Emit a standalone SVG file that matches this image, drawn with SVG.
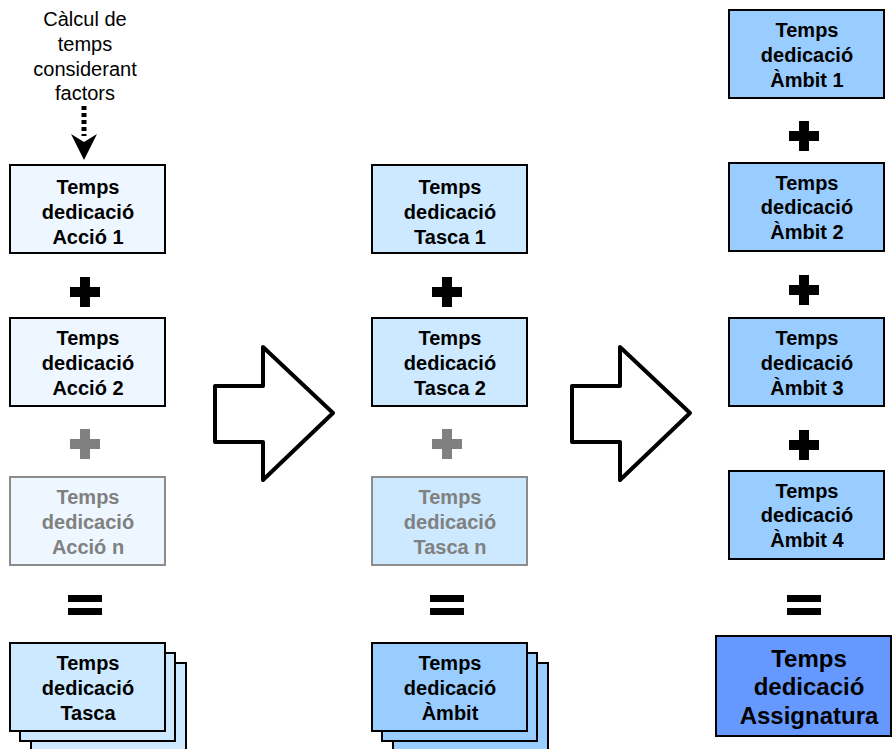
<svg xmlns="http://www.w3.org/2000/svg" width="893" height="749" viewBox="0 0 893 749">
<defs>
<style>
.t{font-family:"Liberation Sans",Arial,sans-serif;font-weight:bold;font-size:20px;text-anchor:middle;fill:#000}
.tg{fill:#808080}
.n{font-family:"Liberation Sans",Arial,sans-serif;font-size:20px;text-anchor:middle;fill:#000}
.b{stroke:#000;stroke-width:2}
.bg{stroke:#8c8c8c;stroke-width:2}
.a{fill:#eef6ff}
.ta{fill:#cce9ff}
.am{fill:#99ccff}
.as{fill:#6699ff}
.op{fill:#000}
.opg{fill:#808080}
.big{fill:#fff;stroke:#000;stroke-width:4;stroke-linejoin:round}
</style>
<path id="plus" d="M-5,-15h10v10h10v10h-10v10h-10v-10h-10v-10h10z"/>
<path id="eq" d="M-17,-9h34v7h-34zM-17,4h34v7h-34z"/>
</defs>
<g id="note">
<text class="n" x="85" y="26">Càlcul de</text>
<text class="n" x="85" y="51">temps</text>
<text class="n" x="85" y="76">considerant</text>
<text class="n" x="85" y="100">factors</text>
</g>
<g id="connectors">
<line x1="84" y1="106" x2="84" y2="136" stroke="#000" stroke-width="5" stroke-dasharray="4,3"/>
<path d="M84,160L71,134L84,142L97,134Z" fill="#000"/>
<path class="big" d="M215,386H263V347L333,413L263,480V442H215Z"/>
<path class="big" d="M572,386H620V347L690,413L620,480V442H572Z"/>
</g>
<g id="accio1"><rect class="a b" x="10" y="165" width="155" height="88"/><text class="t" x="88" y="194">Temps</text><text class="t" x="88" y="219">dedicació</text><text class="t" x="88" y="244">Acció 1</text></g>
<use href="#plus" class="op" x="85" y="292"/>
<g id="accio2"><rect class="a b" x="10" y="318" width="155" height="88"/><text class="t" x="88" y="345">Temps</text><text class="t" x="88" y="370">dedicació</text><text class="t" x="88" y="395">Acció 2</text></g>
<use href="#plus" class="opg" x="85" y="444"/>
<g id="accion"><rect class="a bg" x="10" y="477" width="155" height="88"/><text class="t tg" x="88" y="504">Temps</text><text class="t tg" x="88" y="529">dedicació</text><text class="t tg" x="88" y="554">Acció n</text></g>
<use href="#eq" class="op" x="85" y="604"/>
<g id="tasca">
<rect class="ta b" x="31" y="663" width="155" height="88"/>
<rect class="ta b" x="20" y="653" width="155" height="88"/>
<rect class="ta b" x="10" y="643" width="155" height="88"/>
<text class="t" x="88" y="670">Temps</text><text class="t" x="88" y="695">dedicació</text><text class="t" x="88" y="720">Tasca</text></g>

<g id="tasca1"><rect class="ta b" x="372" y="165" width="155" height="88"/><text class="t" x="450" y="194">Temps</text><text class="t" x="450" y="219">dedicació</text><text class="t" x="450" y="244">Tasca 1</text></g>
<use href="#plus" class="op" x="447" y="292"/>
<g id="tasca2"><rect class="ta b" x="372" y="318" width="155" height="88"/><text class="t" x="450" y="345">Temps</text><text class="t" x="450" y="370">dedicació</text><text class="t" x="450" y="395">Tasca 2</text></g>
<use href="#plus" class="opg" x="447" y="444"/>
<g id="tascan"><rect class="ta bg" x="372" y="477" width="155" height="88"/><text class="t tg" x="450" y="504">Temps</text><text class="t tg" x="450" y="529">dedicació</text><text class="t tg" x="450" y="554">Tasca n</text></g>
<use href="#eq" class="op" x="447" y="604"/>
<g id="ambit">
<rect class="am b" x="393" y="663" width="155" height="88"/>
<rect class="am b" x="382" y="653" width="155" height="88"/>
<rect class="am b" x="372" y="643" width="155" height="88"/>
<text class="t" x="450" y="670">Temps</text><text class="t" x="450" y="695">dedicació</text><text class="t" x="450" y="720">Àmbit</text></g>

<g id="ambit1"><rect class="am b" x="729" y="10" width="155" height="88"/><text class="t" x="807" y="37">Temps</text><text class="t" x="807" y="62">dedicació</text><text class="t" x="807" y="87">Àmbit 1</text></g>
<use href="#plus" class="op" x="804" y="136"/>
<g id="ambit2"><rect class="am b" x="729" y="163" width="155" height="88"/><text class="t" x="807" y="190">Temps</text><text class="t" x="807" y="214">dedicació</text><text class="t" x="807" y="239">Àmbit 2</text></g>
<use href="#plus" class="op" x="804" y="290"/>
<g id="ambit3"><rect class="am b" x="729" y="318" width="155" height="88"/><text class="t" x="807" y="345">Temps</text><text class="t" x="807" y="370">dedicació</text><text class="t" x="807" y="395">Àmbit 3</text></g>
<use href="#plus" class="op" x="804" y="445"/>
<g id="ambit4"><rect class="am b" x="729" y="471" width="155" height="88"/><text class="t" x="807" y="498">Temps</text><text class="t" x="807" y="522">dedicació</text><text class="t" x="807" y="547">Àmbit 4</text></g>
<use href="#eq" class="op" x="804" y="604"/>
<g id="assignatura"><rect class="as b" x="716" y="636" width="175" height="100"/><text class="t" style="font-size:24px" x="809" y="667">Temps</text><text class="t" style="font-size:24px" x="809" y="695">dedicació</text><text class="t" style="font-size:24px" x="809" y="724">Assignatura</text></g>
</svg>
